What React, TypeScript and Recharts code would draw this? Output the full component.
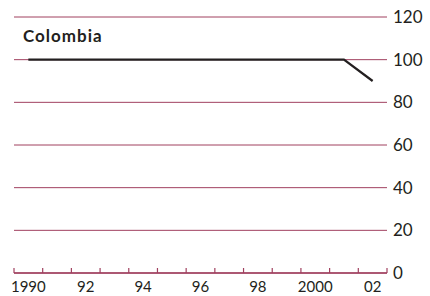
import React from 'react';
import { ComposedChart, Line, XAxis, YAxis, CartesianGrid } from 'recharts';

const years = [1990, 1991, 1992, 1993, 1994, 1995, 1996, 1997, 1998, 1999, 2000, 2001, 2002];
const values = [100, 100, 100, 100, 100, 100, 100, 100, 100, 100, 100, 100, 90];
const yTicks = [0, 20, 40, 60, 80, 100, 120];
const labelYears = [1990, 1992, 1994, 1996, 1998, 2000, 2002];
const labelTexts = ['1990', '92', '94', '96', '98', '2000', '02'];
const title = 'Colombia';

const data = years.map((year, i) => ({ year, value: values[i] }));
const boundaries = [...years.map((y) => y - 0.5), years[years.length - 1] + 0.5];
const xDomain = [boundaries[0], boundaries[boundaries.length - 1]];

const GRID = '#a0405f';
const INK = '#231f20';
const FONT = 'Lato, "Open Sans", sans-serif';

export default function App() {
  return (
    <div style={{ position: 'absolute', left: 0, top: 0, width: 430, height: 296, background: '#fff' }}>
      <div
        style={{
          position: 'absolute',
          left: 23,
          top: 26,
          fontFamily: FONT,
          fontWeight: 700,
          fontSize: 17,
          color: INK,
          letterSpacing: 1,
          lineHeight: '20px',
          zIndex: 2,
        }}
      >
        {title}
      </div>
      <ComposedChart width={430} height={296} data={data} margin={{ top: 17, right: 0, left: 14, bottom: 0 }}>
        <CartesianGrid horizontal vertical={false} stroke={GRID} strokeWidth={1} />
        <XAxis
          xAxisId={0}
          dataKey="year"
          type="number"
          domain={xDomain}
          ticks={boundaries}
          height={1}
          mirror
          tickSize={5}
          tickLine={{ stroke: GRID, strokeWidth: 1.2 }}
          axisLine={{ stroke: GRID, strokeWidth: 1.5 }}
          tick={{ fontSize: 1, fill: 'none' }}
          interval={0}
        />
        <XAxis
          xAxisId={1}
          dataKey="year"
          type="number"
          domain={xDomain}
          ticks={labelYears}
          height={23}
          tickSize={0}
          tickMargin={8}
          tickLine={false}
          axisLine={false}
          interval={0}
          tickFormatter={(v) => labelTexts[labelYears.indexOf(v)]}
          tick={{ fill: INK, fontSize: 15, fontFamily: FONT }}
        />
        <YAxis
          orientation="right"
          width={43}
          domain={[0, 120]}
          ticks={yTicks}
          interval={0}
          tickLine={false}
          axisLine={false}
          tickSize={0}
          tickMargin={6}
          tick={{ fill: INK, fontSize: 17, fontFamily: FONT, textAnchor: 'start' }}
        />
        <Line
          xAxisId={0}
          type="linear"
          dataKey="value"
          stroke={INK}
          strokeWidth={2.2}
          dot={false}
          isAnimationActive={false}
        />
      </ComposedChart>
    </div>
  );
}
